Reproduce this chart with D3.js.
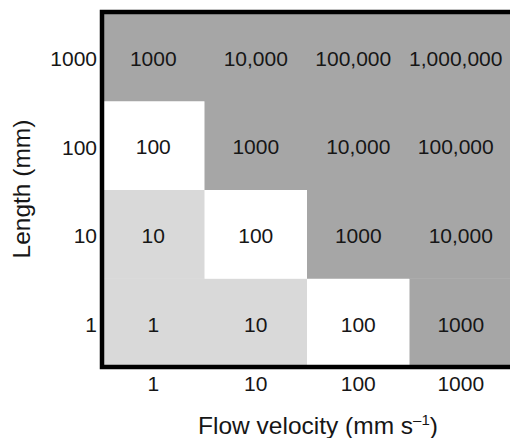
<!DOCTYPE html>
<html>
<head>
<meta charset="utf-8">
<script src="https://d3js.org/d3.v7.min.js"></script>
<style>
  body { margin: 0; background: #fff; }
  text { font-family: "Liberation Sans", Arial, sans-serif; fill: #161616; }
</style>
</head>
<body>
<div id="chart"></div>
<script>
// data
const velocities = ["1", "10", "100", "1000"];      // x categories (mm s-1)
const lengths = ["1", "10", "100", "1000"];         // y categories (mm)
// values per length row (same order as lengths), columns follow velocities
const rowLen1 = [1, 10, 100, 1000];
const rowLen10 = [10, 100, 1000, 10000];
const rowLen100 = [100, 1000, 10000, 100000];
const rowLen1000 = [1000, 10000, 100000, 1000000];
const rows = [rowLen1, rowLen10, rowLen100, rowLen1000];

const W = 510, H = 438;
const plot = {left: 102, top: 12, right: 512, bottom: 367};

const svg = d3.select("#chart").append("svg")
    .attr("width", W)
    .attr("height", H);

const x = d3.scaleBand().domain(velocities).range([plot.left, plot.right]);
const y = d3.scaleBand().domain(lengths.slice().reverse()).range([plot.top, plot.bottom]);

const fmt = v => v >= 10000 ? d3.format(",")(v) : String(v);
const fill = v => v < 100 ? "#d9d9d9" : (v === 100 ? "#ffffff" : "#a6a6a6");

let cells = [];
lengths.forEach((L, i) => {
    velocities.forEach((V, j) => {
        cells.push({L: L, V: V, v: rows[i][j]});
    });
});

// cells
svg.append("g").selectAll("rect")
    .data(cells)
    .enter().append("rect")
    .attr("x", d => x(d.V))
    .attr("y", d => y(d.L))
    .attr("width", x.bandwidth() + 0.5)
    .attr("height", y.bandwidth() + 0.5)
    .attr("fill", d => fill(d.v));

svg.append("g").selectAll("text")
    .data(cells)
    .enter().append("text")
    .attr("x", d => x(d.V) + x.bandwidth() / 2 - (d.v >= 100000 ? 5 : 0))
    .attr("y", d => y(d.L) + y.bandwidth() / 2 + 2)
    .attr("dy", "0.35em")
    .attr("text-anchor", "middle")
    .style("font-size", "21px")
    .text(d => fmt(d.v));

// frame (right side falls outside the picture)
svg.append("rect")
    .attr("x", plot.left)
    .attr("y", plot.top)
    .attr("width", plot.right - plot.left + 4)
    .attr("height", plot.bottom - plot.top)
    .attr("fill", "none")
    .attr("stroke", "#000")
    .attr("stroke-width", 4.5);

// axes
const xAxis = svg.append("g")
    .attr("transform", "translate(0," + plot.bottom + ")")
    .call(d3.axisBottom(x).tickSize(0).tickPadding(9));
xAxis.select(".domain").remove();
xAxis.selectAll("text").style("font-size", "21px").attr("fill", "#161616");

const yAxis = svg.append("g")
    .attr("transform", "translate(" + plot.left + ",0)")
    .call(d3.axisLeft(y).tickSize(0).tickPadding(5));
yAxis.select(".domain").remove();
yAxis.selectAll("text").style("font-size", "21px").attr("fill", "#161616")
    .attr("dy", "0.45em");

// axis titles
const xt = svg.append("text")
    .attr("x", 318)
    .attr("y", 434)
    .attr("text-anchor", "middle")
    .style("font-size", "24.5px");
xt.append("tspan").text("Flow velocity (mm s");
xt.append("tspan").attr("dy", -9).style("font-size", "15px").text("\u20131");
xt.append("tspan").attr("dy", 9).text(")");

svg.append("text")
    .attr("transform", "translate(30,189) rotate(-90)")
    .attr("text-anchor", "middle")
    .style("font-size", "24.5px")
    .text("Length (mm)");
</script>
</body>
</html>
